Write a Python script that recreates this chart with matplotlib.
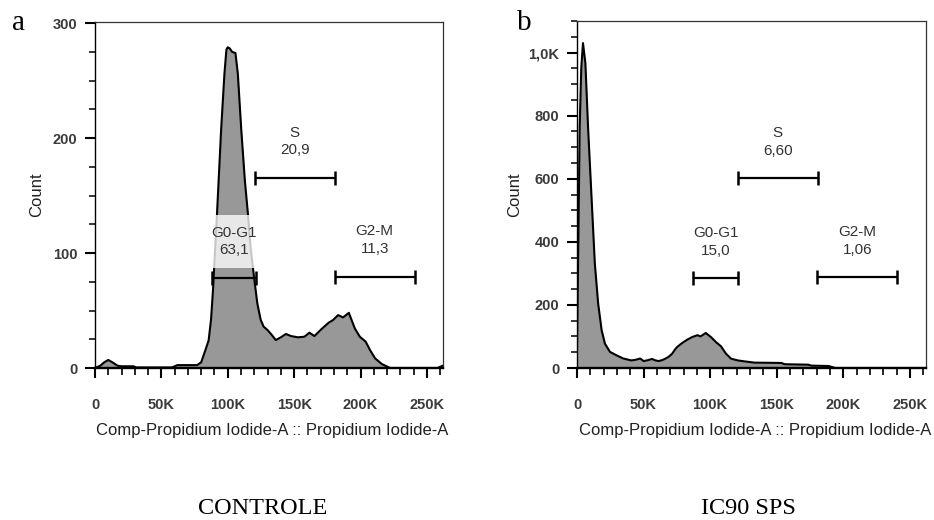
import matplotlib
matplotlib.use('Agg')
import matplotlib.pyplot as plt
from matplotlib.ticker import MultipleLocator

plt.rcParams['font.family'] = ['Liberation Sans', 'DejaVu Sans']

# fluorescence channel (K) and counts
ctrl_x = [0, 4, 7, 10, 13, 17, 20, 29, 31, 58, 62, 77, 80, 83, 85.6, 87.4, 88.9, 89.9,
          91.9, 95, 97.5, 99, 100, 101.5, 103.3, 105.8, 107.6, 110.2, 112.9, 115.2,
          117.2, 119.8, 122.3, 124.8, 127, 130, 133, 136.2, 140, 143.8, 147.6, 152.7,
          157.7, 161.5, 165.3, 170.4, 176, 179.3, 183.1, 186.9, 191.2, 195.7, 199.5,
          203.9, 207.2, 211, 216, 222.3, 258, 262]
ctrl_y = [0, 2, 5, 7, 5, 2, 1.5, 1.5, 0.5, 0.5, 2.5, 2.5, 5, 15, 24, 42, 68, 91,
          134, 207, 256, 277, 279, 278, 275, 274, 256, 207, 163, 134,
          105, 79, 56, 42, 36, 33, 29, 24.3, 26.7, 29.6, 27.8, 26.7,
          27.2, 30.7, 27.8, 33.6, 39.4, 41.7, 46, 44, 48, 34.5, 27.2,
          22.9, 15.6, 8.4, 3.5, 0, 0, 2]

sps_x = [0, 1, 2, 3.2, 4.5, 6.3, 8.4, 10.9, 13.4, 15.9, 18.5, 21, 24.8, 29.8, 34.8,
         40.8, 44, 47.5, 50, 52.5, 56.4, 59, 61.4, 64, 66.4, 69, 71.5, 73.5, 75.3,
         79.1, 82.9, 86.7, 90.5, 92.8, 96.7, 100.5, 104.3, 108.1, 111.9, 115.7,
         120.8, 125.8, 133.3, 153.5, 156, 173.8, 176, 189, 194, 262]
sps_y = [60, 400, 760, 950, 1030, 966, 755, 543, 331, 204, 120, 77, 51, 40, 30,
         24, 26, 30, 22, 24, 28.6, 24, 22, 25, 29.6, 36, 45.5, 58, 67,
         79.5, 90, 98.5, 104, 100, 111, 98.5, 82.5, 69, 45.5, 29.6,
         24, 21, 17, 16, 12, 10.5, 7.5, 6.3, 0, 0]

# gates: name, percentage, start (K), end (K), bar height (count)
ctrl_gates = [('S', '20,9', 120.5, 180.5, 165),
              ('G0-G1', '63,1', 88.1, 121.0, 78),
              ('G2-M', '11,3', 180.5, 240.8, 79)]
sps_gates = [('S', '6,60', 120.8, 180.8, 601),
             ('G0-G1', '15,0', 87.4, 121.2, 284),
             ('G2-M', '1,06', 180.6, 240.7, 287)]

x_ticks = [0, 50, 100, 150, 200, 250]
x_labels = ['0', '50K', '100K', '150K', '200K', '250K']
ctrl_yticks = [0, 100, 200, 300]
ctrl_ylabels = ['0', '100', '200', '300']
sps_yticks = [0, 200, 400, 600, 800, 1000]
sps_ylabels = ['0', '200', '400', '600', '800', '1,0K']


def draw_panel(ax, x, y, ymax, yticks, ylabels, yminor, gates, count_x):
    ax.fill_between(x, y, 0, color='#989898', lw=0)
    ax.plot(x, y, color='black', lw=1.5)
    ax.set_xlim(0, 262.144)
    ax.set_ylim(0, ymax)

    ax.set_xticks(x_ticks, x_labels, fontweight='bold', color='#3a3a3a')
    ax.set_yticks(yticks, ylabels, fontweight='bold', color='#3a3a3a')
    ax.xaxis.set_minor_locator(MultipleLocator(10))
    ax.yaxis.set_minor_locator(MultipleLocator(yminor))
    ax.tick_params(axis='x', which='major', length=7.2, width=1.5, pad=14.5, labelsize=10.5)
    ax.tick_params(axis='x', which='minor', length=5, width=1.2)
    ax.tick_params(axis='y', which='major', length=7.2, width=1.5, pad=5.5, labelsize=10.5)
    ax.tick_params(axis='y', which='minor', length=4, width=1.1)

    for side in ['top', 'right']:
        ax.spines[side].set_linewidth(0.9)
        ax.spines[side].set_color('#333333')
    ax.spines['left'].set_linewidth(1.0)
    ax.spines['bottom'].set_linewidth(1.7)

    ax.set_xlabel('Comp-Propidium Iodide-A :: Propidium Iodide-A', fontsize=12,
                  color='#222222', va='center')
    ax.xaxis.set_label_coords(0.51, -0.181)
    ax.set_ylabel('Count', fontsize=12, color='#222222', va='center')
    ax.yaxis.set_label_coords(count_x, 0.5)

    for name, val, x0, x1, yb in gates:
        ax.plot([x0, x1], [yb, yb], color='black', lw=1.6, marker='|', ms=9.5,
                mew=1.8, solid_capstyle='butt')
        ax.annotate(name + '\n' + val, xy=((x0 + x1) / 2, yb), xytext=(0, 26.5),
                    textcoords='offset points', ha='center', va='center',
                    fontsize=11, color='#333333', linespacing=1.35,
                    bbox=dict(boxstyle='square,pad=0.7', fc='white', ec='none', alpha=0.78))


fig = plt.figure(figsize=(9.34, 5.2), dpi=100)
ax_a = fig.add_axes([95 / 934, 1 - 368 / 520, 348 / 934, 346 / 520])
ax_b = fig.add_axes([577 / 934, 1 - 368 / 520, 349 / 934, 347 / 520])

draw_panel(ax_a, ctrl_x, ctrl_y, 301, ctrl_yticks, ctrl_ylabels, 25, ctrl_gates, -0.167)
draw_panel(ax_b, sps_x, sps_y, 1100, sps_yticks, sps_ylabels, 50, sps_gates, -0.178)

serif = ['Liberation Serif', 'DejaVu Serif']
fig.text(12 / 934, 1 - 30 / 520, 'a', family=serif, fontsize=21, va='baseline')
fig.text(517 / 934, 1 - 30 / 520, 'b', family=serif, fontsize=21, va='baseline')
fig.text(263 / 934, 1 - 508 / 520, 'CONTROLE', family=serif, fontsize=17.5, ha='center', va='center')
fig.text(748 / 934, 1 - 508 / 520, 'IC90 SPS', family=serif, fontsize=17.5, ha='center', va='center')

fig.savefig('out.png', dpi=100)
